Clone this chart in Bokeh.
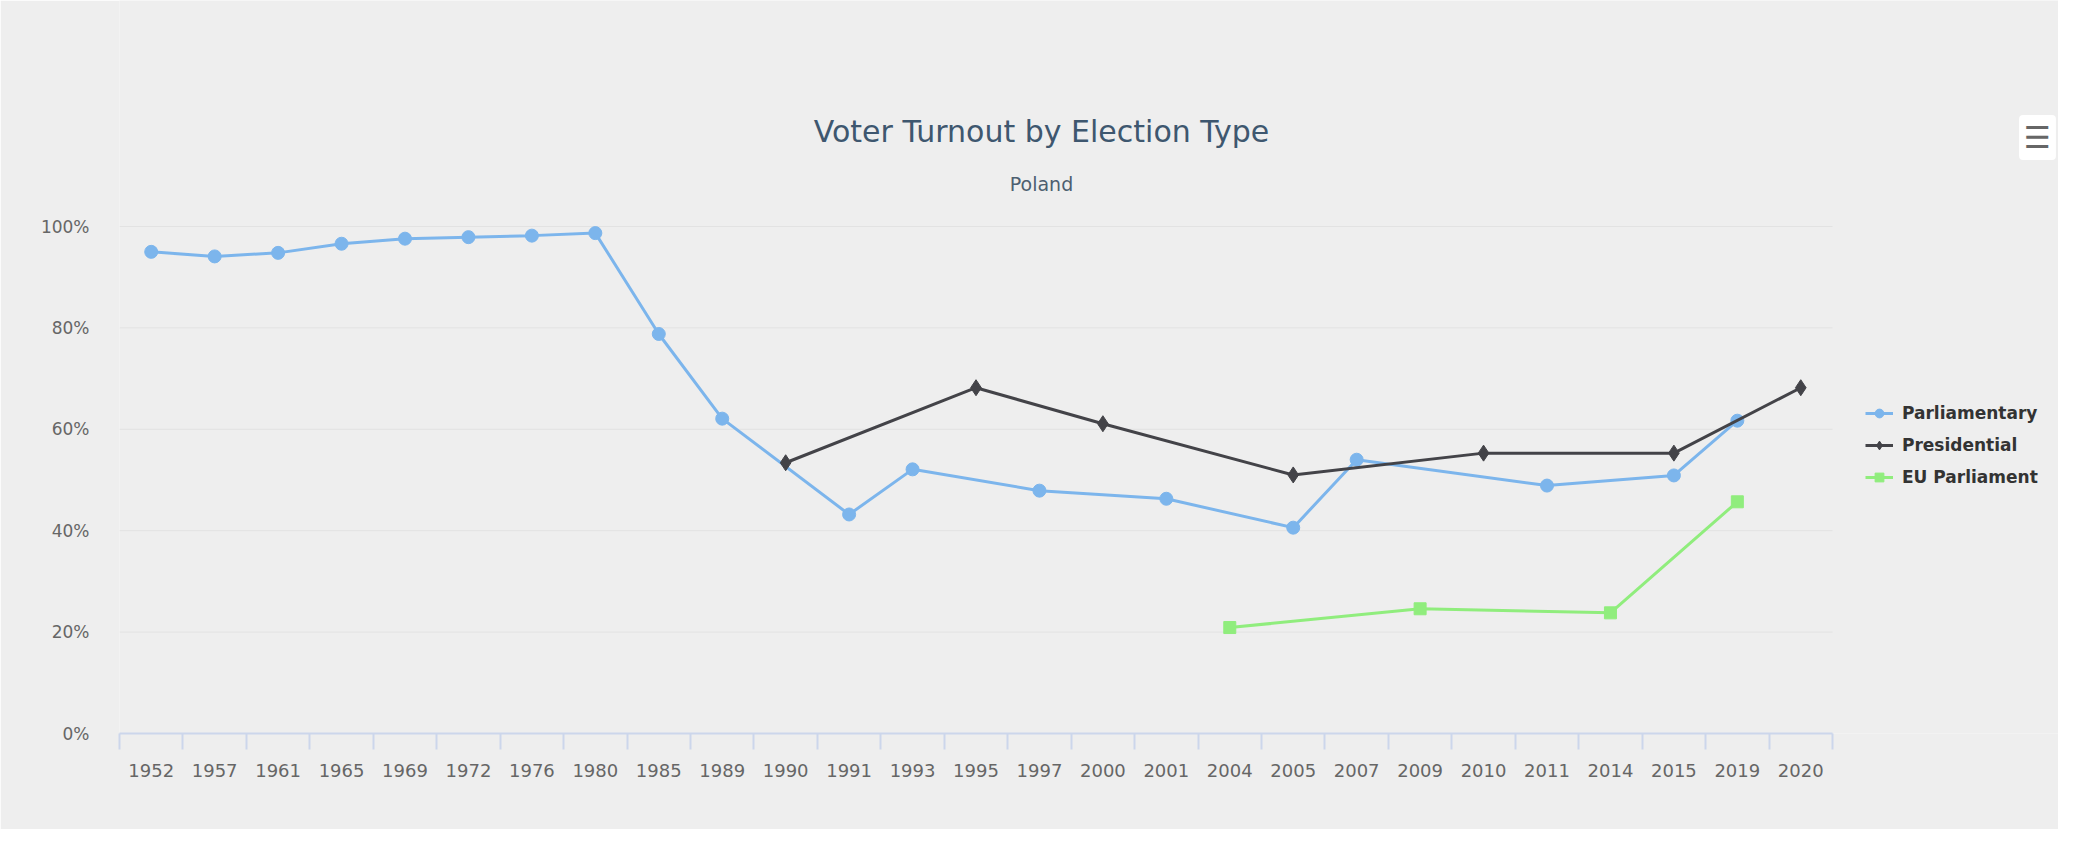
from bokeh.plotting import figure
from bokeh.models import FixedTicker, Legend, LegendItem, Label, Range1d, PrintfTickFormatter
from bokeh.embed import file_html
from bokeh.resources import INLINE

# ---- data ----
years = ["1952", "1957", "1961", "1965", "1969", "1972", "1976", "1980", "1985", "1989",
         "1990", "1991", "1993", "1995", "1997", "2000", "2001", "2004", "2005", "2007",
         "2009", "2010", "2011", "2014", "2015", "2019", "2020"]
parliamentary = [95.0, 94.1, 94.8, 96.6, 97.6, 97.9, 98.2, 98.7, 78.8, 62.1,
                 None, 43.2, 52.1, None, 47.9, None, 46.3, None, 40.6, 54.0,
                 None, None, 48.9, None, 50.9, 61.7, None]
presidential = [None, None, None, None, None, None, None, None, None, None,
                53.4, None, None, 68.2, None, 61.1, None, None, 51.0, None,
                None, 55.3, None, None, 55.3, None, 68.2]
eu_parliament = [None, None, None, None, None, None, None, None, None, None,
                 None, None, None, None, None, None, None, 20.9, None, None,
                 24.6, None, None, 23.8, None, 45.7, None]
y_ticks = [0, 20, 40, 60, 80, 100]
series_names = ["Parliamentary", "Presidential", "EU Parliament"]
series_colors = ["#7cb5ec", "#434348", "#90ed7d"]
series_markers = ["circle", "diamond", "square"]
series_sizes = [13, 16, 12]

FONT = "DejaVu Sans"
BG = "#eeeeee"
n = len(years)

# layout (figure pixels)
W, H = 2058, 829
LEFT, BOTTOM = 119, 96
PLOT_W, PLOT_H = 1713, 507          # width of the category area, height of 0..100%
FRAME_W, FRAME_H = W - LEFT, H - BOTTOM
x_end = n * FRAME_W / PLOT_W
y_end = 100 * FRAME_H / PLOT_H

p = figure(width=W, height=H, output_backend="svg", toolbar_location=None, title=None,
           x_range=Range1d(0, x_end), y_range=Range1d(0, y_end),
           min_border_left=LEFT, min_border_right=0, min_border_top=0, min_border_bottom=BOTTOM,
           background_fill_color=BG, border_fill_color=BG, outline_line_color=None)

# x axis: categories centred, boundary ticks as minor ticks
centers = [i + 0.5 for i in range(n)]
p.xaxis.bounds = (0, n)
p.xaxis.ticker = FixedTicker(ticks=centers, minor_ticks=list(range(n + 1)))
p.xaxis.major_label_overrides = {c: y for c, y in zip(centers, years)}
p.xaxis.major_tick_line_color = None
p.xaxis.major_tick_out = 0
p.xaxis.major_tick_in = 0
p.xaxis.minor_tick_out = 16
p.xaxis.minor_tick_in = 0
p.xaxis.minor_tick_line_color = "#ccd6eb"
p.xaxis.minor_tick_line_width = 2
p.xaxis.axis_line_color = "#ccd6eb"
p.xaxis.axis_line_width = 2
p.xaxis.major_label_standoff = 14
p.xaxis.major_label_text_font = FONT
p.xaxis.major_label_text_font_size = "18px"
p.xaxis.major_label_text_color = "#666666"

# y axis
p.yaxis.ticker = FixedTicker(ticks=y_ticks)
p.yaxis.formatter = PrintfTickFormatter(format="%d%%")
p.yaxis.axis_line_color = None
p.yaxis.major_tick_line_color = None
p.yaxis.minor_tick_line_color = None
p.yaxis.major_label_standoff = 24
p.yaxis.major_label_text_font = FONT
p.yaxis.major_label_text_font_size = "17px"
p.yaxis.major_label_text_color = "#666666"

p.xgrid.grid_line_color = None
p.ygrid.grid_line_color = None
# horizontal grid lines limited to the category area
p.segment(x0=[0] * len(y_ticks), x1=[n] * len(y_ticks), y0=y_ticks, y1=y_ticks,
          line_color="#e2e2e2", line_width=1)

items = []
for name, vals, color, marker, size in zip(series_names,
                                            [parliamentary, presidential, eu_parliament],
                                            series_colors, series_markers, series_sizes):
    xs = [c for c, v in zip(centers, vals) if v is not None]
    ys = [v for v in vals if v is not None]
    r1 = p.line(xs, ys, line_color=color, line_width=3)
    r2 = p.scatter(xs, ys, marker=marker, size=size, fill_color=color, line_color=color)
    items.append(LegendItem(label=name, renderers=[r1, r2]))

legend = Legend(items=items, location=(1746, 245), orientation="vertical",
                glyph_width=28, glyph_height=22, label_height=22, label_standoff=9,
                spacing=10, padding=0, margin=0, border_line_color=None,
                background_fill_alpha=0, label_text_font=FONT, label_text_font_size="17px",
                label_text_font_style="bold", label_text_color="#333333")
p.add_layout(legend)

# titles
p.add_layout(Label(x=922, y=602, x_units="screen", y_units="screen",
                   text="Voter Turnout by Election Type", text_align="center",
                   text_baseline="middle", text_font=FONT, text_font_size="30px",
                   text_color="#3e576f"))
p.add_layout(Label(x=922, y=550, x_units="screen", y_units="screen",
                   text="Poland", text_align="center", text_baseline="middle",
                   text_font=FONT, text_font_size="19px", text_color="#4d5f70"))
# export menu symbol
p.add_layout(Label(x=1918, y=596, x_units="screen", y_units="screen",
                   text="\u2630", text_align="center", text_baseline="middle",
                   text_font=FONT, text_font_size="30px", text_color="#666666",
                   background_fill_color="white", padding=5, border_radius=4))

open("out.html", "w").write(file_html(p, INLINE))
